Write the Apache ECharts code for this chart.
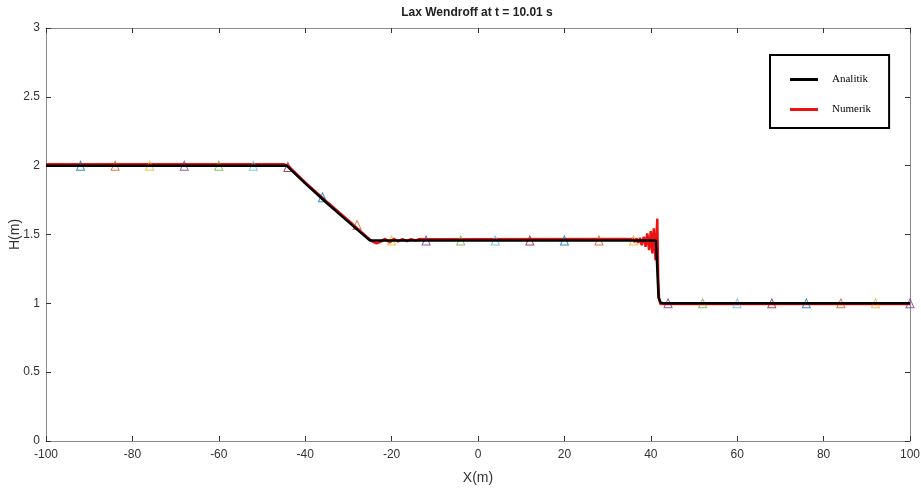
<!DOCTYPE html>
<html>
<head>
<meta charset="utf-8">
<script src="https://cdn.jsdelivr.net/npm/echarts@6/dist/echarts.min.js"></script>
<style>
html,body{margin:0;padding:0;background:#fff;}
#c{width:921px;height:490px;}
</style>
</head>
<body>
<div id="c"></div>
<script>
// ---- data ----
var titleText = 'Lax Wendroff at t = 10.01 s';
var xName = 'X(m)';
var yName = 'H(m)';
var seriesNames = ['Analitik', 'Numerik'];

var analitikX = [-100, -44.3, -40, -35, -30, -25, 41.2, 41.5, 41.8, 42.3, 43, 100];
var analitikH = [2.0, 2.0, 1.871, 1.729, 1.592, 1.456, 1.456, 1.25, 1.04, 1.005, 1.0, 1.0];

var numerikX = [-100, -45, -44, -40, -35, -30, -26, -24.5, -23.5, -22.5, -21.5, -20.5, -19.5, -18.5, -17.5, -16.5, -15.5, -14.5, -13.5, -12,
  34, 35.1, 35.5, 35.9, 36.3, 36.7, 37.1, 37.5, 37.9, 38.4, 38.8, 39.2, 39.6, 40.0, 40.35, 40.7, 41.1, 41.5, 41.7, 41.9, 42.2, 100];
var numerikH = [2.01, 2.01, 2.0, 1.878, 1.738, 1.602, 1.49, 1.45, 1.435, 1.448, 1.468, 1.442, 1.469, 1.449, 1.467, 1.452, 1.466, 1.456, 1.467, 1.465,
  1.467, 1.466, 1.452, 1.47, 1.445, 1.472, 1.44, 1.476, 1.423, 1.484, 1.411, 1.508, 1.387, 1.525, 1.363, 1.545, 1.314, 1.615, 1.2, 1.04, 0.995, 0.995];

var markerX = [-92, -84, -76, -68, -60, -52, -44, -36, -28, -20, -12, -4, 4, 12, 20, 28, 36, 44, 52, 60, 68, 76, 84, 92, 100];
var markerH = [2.0, 2.0, 2.0, 2.0, 2.0, 2.0, 1.99, 1.77, 1.57, 1.456, 1.456, 1.456, 1.456, 1.456, 1.456, 1.456, 1.456, 1.0, 1.0, 1.0, 1.0, 1.0, 1.0, 1.0, 1.0];

// ---- styles ----
var markerPalette = ['#0072BD', '#D95319', '#EDB120', '#7E2F8E', '#77AC30', '#4DBEEE', '#A2142F'];
var sansFont = "'Liberation Sans', Arial, sans-serif";

function zip(xs, ys) { return xs.map(function (x, i) { return [x, ys[i]]; }); }

var markerData = markerX.map(function (x, i) {
  var c = markerPalette[i % markerPalette.length];
  return { value: [x, markerH[i]], itemStyle: { color: 'rgba(255,255,255,0)', borderColor: c, borderWidth: 1, opacity: 0.8 } };
});

var axisLineStyle = { color: '#8a8a8a', width: 1 };
var tickStyle = { color: '#333', width: 1 };
var labelStyle = { color: '#333', fontSize: 12, fontFamily: sansFont };

var chart = echarts.init(document.getElementById('c'), null, { renderer: 'canvas' });
chart.setOption({
  backgroundColor: '#fff',
  animation: false,
  title: {
    text: titleText, left: 472, top: 2, textAlign: 'center',
    textStyle: { fontSize: 12, fontWeight: 'bold', fontFamily: sansFont, color: '#222' }
  },
  grid: { left: 46, right: 11, top: 28, bottom: 49, show: false, containLabel: false, outerBoundsMode: 'none' },
  legend: {
    data: seriesNames, orient: 'vertical', left: 770, top: 55,
    borderColor: '#000', borderWidth: 2, backgroundColor: '#fff',
    padding: [19, 18, 13, 20], itemGap: 19, itemWidth: 28, itemHeight: 3, icon: 'rect',
    textStyle: { fontFamily: "'Liberation Serif', 'Times New Roman', serif", fontSize: 11, color: '#000', padding: [0, 0, 0, 9] }
  },
  xAxis: [{
    type: 'value', min: -100, max: 100, interval: 20, position: 'bottom',
    name: xName, nameLocation: 'middle', nameGap: 30, nameMoveOverlap: false,
    nameTextStyle: { color: '#333', fontSize: 14, fontFamily: sansFont },
    axisLine: { show: true, onZero: false, lineStyle: axisLineStyle },
    axisTick: { show: true, inside: true, length: 5, lineStyle: tickStyle },
    axisLabel: Object.assign({ margin: 8 }, labelStyle),
    splitLine: { show: false }
  }, {
    type: 'value', min: -100, max: 100, interval: 20, position: 'top',
    axisLine: { show: true, onZero: false, lineStyle: axisLineStyle },
    axisTick: { show: true, inside: true, length: 5, lineStyle: tickStyle },
    axisLabel: { show: false }, splitLine: { show: false }
  }],
  yAxis: [{
    type: 'value', min: 0, max: 3, interval: 0.5, position: 'left',
    name: yName, nameLocation: 'middle', nameGap: 24, nameRotate: 90, nameMoveOverlap: false,
    nameTextStyle: { color: '#333', fontSize: 14, fontFamily: sansFont },
    axisLine: { show: true, onZero: false, lineStyle: axisLineStyle },
    axisTick: { show: true, inside: true, length: 5, lineStyle: tickStyle },
    axisLabel: Object.assign({ margin: 6 }, labelStyle),
    splitLine: { show: false }
  }, {
    type: 'value', min: 0, max: 3, interval: 0.5, position: 'right',
    axisLine: { show: true, onZero: false, lineStyle: axisLineStyle },
    axisTick: { show: true, inside: true, length: 5, lineStyle: tickStyle },
    axisLabel: { show: false }, splitLine: { show: false }
  }],
  series: [{
    name: 'Numerik', type: 'line', xAxisIndex: 0, yAxisIndex: 0,
    data: zip(numerikX, numerikH), showSymbol: false, symbol: 'none',
    color: '#ee1111', lineStyle: { color: '#ee1111', width: 2.5 }, z: 2
  }, {
    name: 'markers', type: 'scatter', xAxisIndex: 0, yAxisIndex: 0,
    data: markerData, symbol: 'triangle', symbolSize: [8, 9], silent: true, z: 3
  }, {
    name: 'Analitik', type: 'line', xAxisIndex: 0, yAxisIndex: 0,
    data: zip(analitikX, analitikH), showSymbol: false, symbol: 'none',
    color: '#000', lineStyle: { color: '#000', width: 2.5 }, z: 4
  }]
});
</script>
</body>
</html>
